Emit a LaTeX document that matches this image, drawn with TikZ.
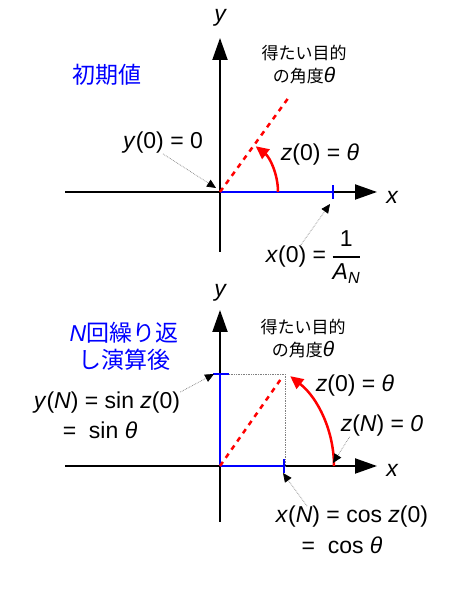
\documentclass[tikz,border=0pt]{standalone}
\usepackage{amsmath}
\usepackage{fontspec}
\setmainfont{Liberation Sans}
\newfontfamily\jpfont{Noto Sans CJK JP}
\usetikzlibrary{calc, arrows.meta, positioning}

\begin{document}
\begin{tikzpicture}[x=1pt, y=1pt,
    axis/.style={-{Triangle[length=22pt, width=15pt]}, line width=2pt},
    blueline/.style={blue, line width=2.5pt},
    reddash/.style={red, line width=2.5pt, dash pattern=on 5pt off 5pt},
    redarc/.style={-{Triangle[length=13pt, width=12pt]}, red, line width=2.5pt},
    leader/.style={-{Triangle[length=9pt, width=8pt, color=black]}, gray, densely dotted, line width=0.7pt},
    lbl/.style={inner sep=0pt, font=\fontsize{23}{27}\selectfont},
    jplbl/.style={inner sep=0pt, align=center, font=\jpfont\fontsize{17}{23}\selectfont},
    title/.style={inner sep=0pt, align=center, blue, font=\jpfont\fontsize{23}{27}\selectfont}]
    \useasboundingbox (0,0) rectangle (450,601);

    % ---- top: initial values ----
    \coordinate (o1) at (220,409);
    \coordinate (x01) at (333,409);
    \draw[axis] (65,409) coordinate (xl1) -- (377,409) coordinate (xr1);
    \draw[axis] (220,349) coordinate (yb1) -- (220,563) coordinate (yt1);
    \node[lbl, font=\fontsize{23}{27}\selectfont\itshape] (ylab1) at (220,583) {y};
    \node[lbl, font=\fontsize{23}{27}\selectfont\itshape] (xlab1) at (392,404) {x};

    % blue x(0) segment with tick
    \draw[blueline] (o1) -- (x01);
    \draw[blueline] ($(x01)+(0,-7)$) -- ($(x01)+(0,7)$);

    % target angle (dashed) and z(0) arc
    \draw[reddash] (o1) -- ++(54:116pt) coordinate (th1);
    \draw[redarc] ($(o1)+(58pt,0)$) arc[start angle=0, end angle=52, radius=58pt];

    \node[title] (init) at (107,526) {初期値};
    \node[jplbl] (goal1) at (304,536) {得たい目的\\の角度{\rmfamily\itshape\fontsize{21}{23}\selectfont θ}};
    \node[lbl] (z01) at (320,446) {\textit{z}(0) = \textit{θ}};

    % y(0) label with leader to the origin
    \node[lbl] (y01) at (163,458) {\textit{y}(0) = 0};
    \coordinate (y01tip) at (216,413);
    \draw[leader] (y01.south) -- (y01tip);

    % x(0) label with leader to the tick
    \node[lbl] (x0lab) at (296,344) {\textit{x}(0) =};
    \node[lbl, right=5pt of x0lab] (x0frac) {$\genfrac{}{}{1.8pt}{0}{\text{1}}{\text{\itshape A}_{\text{\itshape N}}}$};
    \coordinate (x01tip) at (330,397);
    \draw[leader] ([xshift=4pt]x0lab.north) -- (x01tip);

    % ---- bottom: after N iterations ----
    \coordinate (o2) at (220,135);
    \coordinate (ys2) at (220,227);
    \coordinate (xc2) at (284,135);
    \coordinate (pt2) at (285,227);
    \draw[axis] (65,135) coordinate (xl2) -- (377,135) coordinate (xr2);
    \draw[axis] (220,79) coordinate (yb2) -- (220,291) coordinate (yt2);
    \node[lbl, font=\fontsize{23}{27}\selectfont\itshape] (ylab2) at (220,308) {y};
    \node[lbl, font=\fontsize{23}{27}\selectfont\itshape] (xlab2) at (392,131) {x};

    % projection guides
    \draw[gray, densely dotted, line width=0.7pt] ([xshift=9pt]ys2) -- (pt2) -- (pt2 |- o2);

    % blue sin/cos segments with ticks
    \draw[blueline] (o2) -- (ys2);
    \draw[blueline] ($(ys2)+(-7,0)$) -- ($(ys2)+(9,0)$);
    \draw[blueline] (o2) -- (xc2);
    \draw[blueline] ($(xc2)+(0,-7)$) -- ($(xc2)+(0,7)$);

    % target angle (dashed) and z rotated to zero
    \draw[reddash] (o2) -- ++(55:109pt) coordinate (th2);
    \draw[redarc] ($(o2)+(114pt,0)$) arc[start angle=0, end angle=52, radius=114pt];

    \node[title] (iter) at (124,255) {\textit{\rmfamily N}回繰り返\\し演算後};
    \node[jplbl] (goal2) at (303,262) {得たい目的\\の角度{\rmfamily\itshape\fontsize{21}{23}\selectfont θ}};
    \node[lbl] (z02) at (355,215) {\textit{z}(0) = \textit{θ}};

    % z(N) label with leader to the arc start
    \node[lbl] (zN) at (382,175) {\textit{z}(\textit{N}) = \textit{0}};
    \coordinate (zNtip) at (333,138);
    \draw[leader] ([xshift=9pt]zN.south west) -- (zNtip);

    % y(N) label with leader to the top tick
    \node[lbl] (yN) at (107,198) {\textit{y}(\textit{N}) = sin \textit{z}(0)};
    \node[lbl] (yNb) at (100,171) {=\ \ sin \textit{θ}};
    \coordinate (yNtip) at (214,227);
    \draw[leader] (yN.north east) -- (yNtip);

    % x(N) label with leader to the right tick
    \node[lbl] (xN) at (352,84) {\textit{x}(\textit{N}) = cos \textit{z}(0)};
    \node[lbl] (xNb) at (342,56) {=\ \ cos \textit{θ}};
    \coordinate (xNtip) at (283,128);
    \draw[leader] ([xshift=-45pt]xN.north) -- (xNtip);
\end{tikzpicture}
\end{document}
